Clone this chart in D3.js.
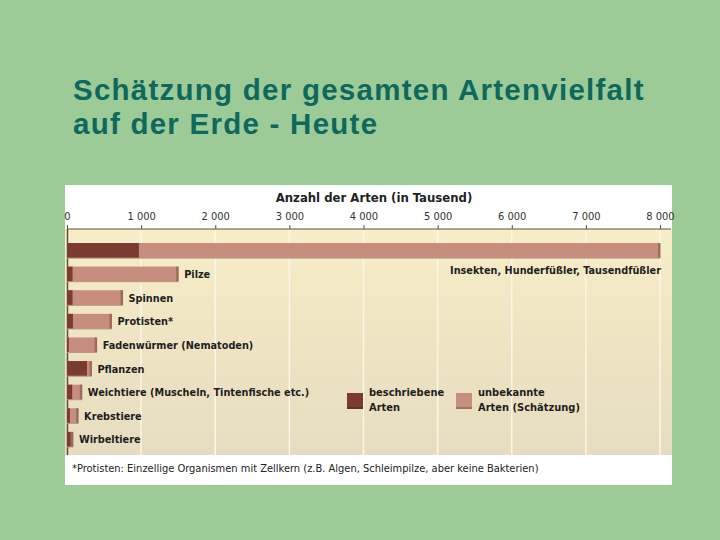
<!DOCTYPE html>
<html>
<head>
<meta charset="utf-8">
<script src="https://cdn.jsdelivr.net/npm/d3@7"></script>
<style>
  body { margin: 0; background: #9ccb98; }
  svg { display: block; }
</style>
</head>
<body>
<script>
// data (Tausend Arten)
const groups = ["Insekten, Hunderfüßler, Tausendfüßler", "Pilze", "Spinnen", "Protisten*",
    "Fadenwürmer (Nematoden)", "Pflanzen", "Weichtiere (Muscheln, Tintenfische etc.)", "Krebstiere", "Wirbeltiere"];
const described = [970, 75, 75, 80, 25, 270, 70, 40, 50];
const total = [8000, 1500, 750, 600, 400, 330, 200, 150, 80];
const ticks = [0, 1000, 2000, 3000, 4000, 5000, 6000, 7000, 8000];

const width = 720, height = 540;
const svg = d3.select("body").append("svg")
    .attr("width", width)
    .attr("height", height);

svg.append("rect")
    .attr("x", 0).attr("y", 0)
    .attr("width", width).attr("height", height)
    .attr("fill", "#9ccb98");

// title
const title = svg.append("text")
    .attr("x", 73).attr("y", 100)
    .attr("font-family", "'Liberation Sans', Arial, sans-serif")
    .attr("font-size", "29.5px")
    .attr("font-weight", "bold")
    .attr("letter-spacing", "1.25px")
    .attr("fill", "#0e685c");
title.append("tspan").attr("x", 73).text("Schätzung der gesamten Artenvielfalt");
title.append("tspan").attr("x", 73).attr("dy", 34).text("auf der Erde - Heute");

// panel
const panel = { x: 65, y: 185, w: 607, h: 300 };
const plotTop = 229, plotBottom = 455;
svg.append("rect")
    .attr("x", panel.x).attr("y", panel.y)
    .attr("width", panel.w).attr("height", panel.h)
    .attr("fill", "white");

const defs = svg.append("defs");
const grad = defs.append("linearGradient").attr("id", "bg")
    .attr("x1", 0).attr("y1", 0).attr("x2", 0).attr("y2", 1);
grad.append("stop").attr("offset", "0%").attr("stop-color", "#f7edc7");
grad.append("stop").attr("offset", "100%").attr("stop-color", "#e6dcc0");

svg.append("rect")
    .attr("x", panel.x).attr("y", plotTop)
    .attr("width", panel.w).attr("height", plotBottom - plotTop)
    .attr("fill", "url(#bg)");

const x = d3.scaleLinear().domain([0, 8000]).range([67, 660]);
const y = d3.scaleBand().domain(groups).range([243, 447]).paddingInner(0.36).paddingOuter(0);

// gridlines
svg.append("g").selectAll("line")
    .data(ticks.slice(1))
    .join("line")
    .attr("x1", d => x(d)).attr("x2", d => x(d))
    .attr("y1", plotTop + 2).attr("y2", plotBottom)
    .attr("stroke", "#fbf6e6")
    .attr("stroke-width", 1.5);

// axis on top
const fmt = d => d === 0 ? "0" : d3.format(",")(d).replace(",", " ");
const axis = svg.append("g")
    .attr("transform", `translate(0,${plotTop})`)
    .call(d3.axisTop(x).tickValues(ticks).tickFormat(fmt).tickSize(4).tickSizeOuter(0));
axis.select(".domain").remove();
axis.append("line")
    .attr("x1", 67).attr("x2", 671).attr("y1", 0).attr("y2", 0)
    .attr("stroke", "#5b5040").attr("stroke-width", 1.2);
axis.selectAll(".tick line").attr("stroke", "#5b5040");
axis.selectAll(".tick text")
    .attr("font-family", "'DejaVu Sans Condensed', 'DejaVu Sans', sans-serif")
    .attr("font-size", "11px")
    .attr("fill", "#333")
    .attr("dy", "-0.15em");

svg.append("text")
    .attr("x", 374).attr("y", 202)
    .attr("text-anchor", "middle")
    .attr("font-family", "'DejaVu Sans Condensed', 'DejaVu Sans', sans-serif")
    .attr("font-weight", "bold")
    .attr("font-size", "13px")
    .attr("fill", "#222")
    .text("Anzahl der Arten (in Tausend)");

// left axis line
svg.append("line")
    .attr("x1", 67.5).attr("x2", 67.5)
    .attr("y1", plotTop).attr("y2", plotBottom)
    .attr("stroke", "#5b5040").attr("stroke-width", 1.5);

// bars
const rows = groups.map((g, i) => ({ name: g, desc: described[i], tot: total[i], i }));
const bars = svg.append("g");
bars.selectAll("rect.tot")
    .data(rows)
    .join("rect")
    .attr("class", "tot")
    .attr("x", x(0))
    .attr("y", d => y(d.name))
    .attr("width", d => x(d.tot) - x(0))
    .attr("height", y.bandwidth())
    .attr("fill", "#c78d7e");
// shaded right end
bars.selectAll("rect.end")
    .data(rows)
    .join("rect")
    .attr("class", "end")
    .attr("x", d => x(d.tot) - 2)
    .attr("y", d => y(d.name))
    .attr("width", 2.5)
    .attr("height", y.bandwidth())
    .attr("fill", "#9a6d5e");
bars.selectAll("rect.desc")
    .data(rows)
    .join("rect")
    .attr("class", "desc")
    .attr("x", x(0))
    .attr("y", d => y(d.name))
    .attr("width", d => x(d.desc) - x(0))
    .attr("height", y.bandwidth())
    .attr("fill", "#7b3b31");
// bottom shadow
bars.selectAll("line.shadow")
    .data(rows)
    .join("line")
    .attr("class", "shadow")
    .attr("x1", x(0)).attr("x2", d => x(d.tot))
    .attr("y1", d => y(d.name) + y.bandwidth())
    .attr("y2", d => y(d.name) + y.bandwidth())
    .attr("stroke", "#b49c86").attr("stroke-width", 1);

// labels
const labelFont = "'DejaVu Sans Condensed', 'DejaVu Sans', sans-serif";
svg.append("g").selectAll("text")
    .data(rows)
    .join("text")
    .attr("x", d => d.i === 0 ? x(d.tot) + 1 : x(d.tot) + 6)
    .attr("y", d => d.i === 0 ? y(d.name) + y.bandwidth() + 16 : y(d.name) + y.bandwidth() / 2 + 4)
    .attr("text-anchor", d => d.i === 0 ? "end" : "start")
    .attr("font-family", labelFont)
    .attr("font-weight", "bold")
    .attr("font-size", "10.8px")
    .attr("fill", "#1e1e1e")
    .text(d => d.name);

// legend
const legendItems = [
    { color: "#7b3b31", lines: ["beschriebene", "Arten"], x: 347 },
    { color: "#c78d7e", lines: ["unbekannte", "Arten (Schätzung)"], x: 456 }
];
const lg = svg.append("g").selectAll("g")
    .data(legendItems)
    .join("g")
    .attr("transform", d => `translate(${d.x},393)`);
lg.append("rect")
    .attr("x", 0).attr("y", 0)
    .attr("width", 16).attr("height", 16)
    .attr("fill", d => d.color);
lg.append("rect")
    .attr("x", 0).attr("y", 14)
    .attr("width", 16).attr("height", 2)
    .attr("fill", "#000").attr("opacity", 0.2);
lg.each(function(d) {
    const t = d3.select(this).append("text")
        .attr("font-family", labelFont)
        .attr("font-weight", "bold")
        .attr("font-size", "11px")
        .attr("fill", "#1e1e1e");
    d.lines.forEach((l, k) => {
        t.append("tspan").attr("x", 22).attr("y", k * 15 + 3).text(l);
    });
});

// footnote
svg.append("text")
    .attr("x", 72).attr("y", 472)
    .attr("font-family", labelFont)
    .attr("font-size", "11px")
    .attr("fill", "#222")
    .text("*Protisten: Einzellige Organismen mit Zellkern (z.B. Algen, Schleimpilze, aber keine Bakterien)");
</script>
</body>
</html>
